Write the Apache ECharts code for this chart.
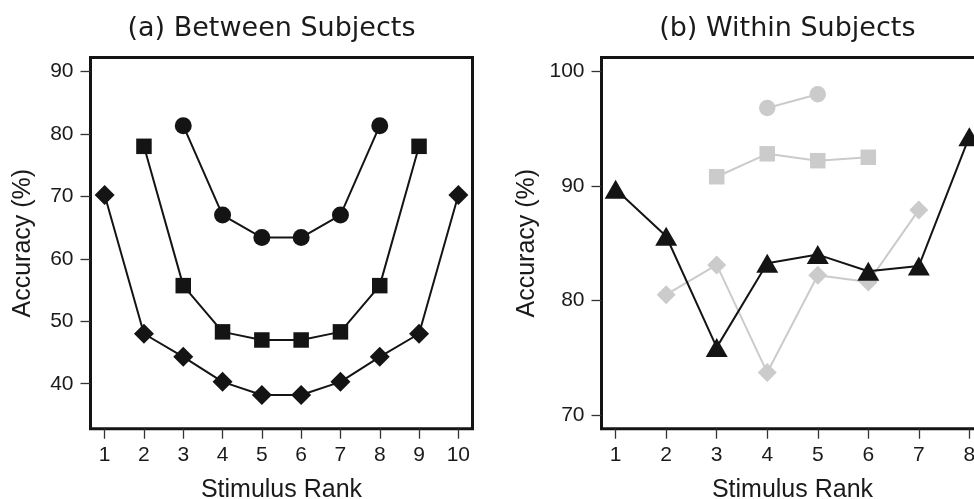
<!DOCTYPE html>
<html>
<head>
<meta charset="utf-8">
<script src="https://cdn.jsdelivr.net/npm/echarts@6/dist/echarts.min.js"></script>
<style>html,body{margin:0;padding:0;background:#fff}#c{width:974px;height:499px}</style>
</head>
<body>
<div id="c"></div>
<script>
// ---- data ----
var titleA = '(a) Between Subjects';
var titleB = '(b) Within Subjects';
var xName = 'Stimulus Rank';
var yName = 'Accuracy (%)';

var ticksXA = [1, 2, 3, 4, 5, 6, 7, 8, 9, 10];
var ticksYA = [40, 50, 60, 70, 80, 90];
var ticksXB = [1, 2, 3, 4, 5, 6, 7, 8];
var ticksYB = [70, 80, 90, 100];

var diamondA_x = [1, 2, 3, 4, 5, 6, 7, 8, 9, 10];
var diamondA_y = [70.2, 48.0, 44.3, 40.3, 38.2, 38.2, 40.3, 44.3, 48.0, 70.2];
var squareA_x = [2, 3, 4, 5, 6, 7, 8, 9];
var squareA_y = [78.0, 55.7, 48.3, 47.0, 47.0, 48.3, 55.7, 78.0];
var circleA_x = [3, 4, 5, 6, 7, 8];
var circleA_y = [81.3, 67.0, 63.4, 63.4, 67.0, 81.3];

var triangleB_x = [1, 2, 3, 4, 5, 6, 7, 8];
var triangleB_y = [89.7, 85.6, 75.9, 83.25, 84.0, 82.55, 83.0, 94.3];
var diamondB_x = [2, 3, 4, 5, 6, 7];
var diamondB_y = [80.5, 83.1, 73.7, 82.2, 81.6, 87.9];
var squareB_x = [3, 4, 5, 6];
var squareB_y = [90.8, 92.8, 92.2, 92.5];
var circleB_x = [4, 5];
var circleB_y = [96.8, 98.0];

// ---- helpers ----
function pts(xs, ys) { return xs.map(function (x, i) { return [x, ys[i]]; }); }
var BLACK = '#141414', GRAY = '#cbcbcb', TXT = '#1a1a1a';
var FONT = 'Liberation Sans';

function lineSeries(idx, xs, ys, symbol, size, color) {
  return {
    type: 'line', xAxisIndex: idx, yAxisIndex: idx,
    data: pts(xs, ys), symbol: symbol, symbolSize: size, showSymbol: true,
    lineStyle: { color: color, width: 2 }, itemStyle: { color: color, borderWidth: 0 },
    animation: false, silent: true, z: color === BLACK ? 3 : 2
  };
}

function xAxisDef(idx, min, max, ticks) {
  return {
    type: 'value', gridIndex: idx, min: min, max: max,
    splitLine: { show: false }, axisLine: { show: false },
    axisTick: { show: true, inside: false, length: 10, customValues: ticks, lineStyle: { color: '#333', width: 1.3 } },
    axisLabel: { customValues: ticks, margin: 16, fontSize: 21, fontFamily: FONT, color: TXT },
    name: xName, nameLocation: 'middle', nameGap: 48.5,
    nameTextStyle: { fontSize: 25, fontFamily: FONT, color: TXT }
  };
}
function yAxisDef(idx, min, max, ticks, gap) {
  return {
    type: 'value', gridIndex: idx, min: min, max: max,
    splitLine: { show: false }, axisLine: { show: false },
    axisTick: { show: true, inside: false, length: 10, customValues: ticks, lineStyle: { color: '#333', width: 1.3 } },
    axisLabel: { customValues: ticks, margin: 17, fontSize: 21, fontFamily: FONT, color: TXT },
    name: yName, nameLocation: 'middle', nameGap: gap,
    nameTextStyle: { fontSize: 25, fontFamily: FONT, color: TXT }
  };
}
function titleText(txt, cx) {
  return {
    type: 'text', x: cx, y: 29,
    style: { text: txt, fontSize: 27, fontFamily: 'DejaVu Sans', fill: TXT,
      align: 'center', verticalAlign: 'middle', textAlign: 'center', textVerticalAlign: 'middle' }
  };
}

var chart = echarts.init(document.getElementById('c'), null, { renderer: 'canvas' });
chart.setOption({
  backgroundColor: '#ffffff',
  animation: false,
  grid: [
    { left: 90.5, top: 57.6, width: 382, height: 371.1, show: true, borderColor: BLACK, borderWidth: 3, containLabel: false, outerBoundsMode: 'none' },
    { left: 601.5, top: 57.6, width: 382, height: 371.1, show: true, borderColor: BLACK, borderWidth: 3, containLabel: false, outerBoundsMode: 'none' }
  ],
  xAxis: [xAxisDef(0, 0.64, 10.36, ticksXA), xAxisDef(1, 0.72, 8.28, ticksXB)],
  yAxis: [yAxisDef(0, 32.8, 92.2, ticksYA, 55), yAxisDef(1, 68.8, 101.2, ticksYB, 62)],
  graphic: [titleText(titleA, 271.5), titleText(titleB, 787.3)],
  series: [
    lineSeries(0, diamondA_x, diamondA_y, 'diamond', 20, BLACK),
    lineSeries(0, squareA_x, squareA_y, 'rect', 15.5, BLACK),
    lineSeries(0, circleA_x, circleA_y, 'circle', 17, BLACK),
    lineSeries(1, diamondB_x, diamondB_y, 'diamond', 19, GRAY),
    lineSeries(1, squareB_x, squareB_y, 'rect', 15.5, GRAY),
    lineSeries(1, circleB_x, circleB_y, 'circle', 16.5, GRAY),
    lineSeries(1, triangleB_x, triangleB_y, 'triangle', [22, 19], BLACK)
  ]
});
</script>
</body>
</html>
